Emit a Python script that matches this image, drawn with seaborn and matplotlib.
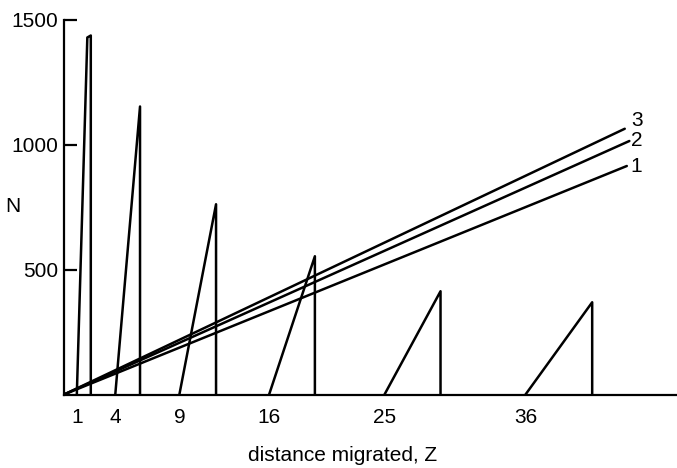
import matplotlib
matplotlib.use("Agg")
import matplotlib.pyplot as plt
import seaborn as sns
import pandas as pd

# ---- data ----
# sawtooth peaks: foot position, apex (end of rising edge), vertical drop
tri_foot_z = [1, 4, 9, 16, 25, 36]
tri_apex_z = [1.82, 5.93, 11.86, 19.57, 29.37, 41.2]
tri_apex_n = [1428, 1152, 761, 553, 413, 369]
tri_drop_z = [2.09, 5.93, 11.86, 19.57, 29.37, 41.2]
tri_drop_n = [1436, 1152, 761, 553, 413, 369]

# straight lines from the origin, labelled 1, 2, 3
line_names = ["1", "2", "3"]
line_end_z = [43.9, 44.1, 43.74]
line_end_n = [914, 1014, 1063]
line_label_n = [914, 1018, 1094]
line_label_z = 44.67

x_ticks = [1, 4, 9, 16, 25, 36]
x_tick_labels = ["1", "4", "9", "16", "25", "36"]
y_ticks = [500, 1000, 1500]
y_tick_labels = ["500", "1000", "1500"]
x_label = "distance migrated, Z"
y_label = "N"

# ---- build tables ----
rows = []
for i in range(len(tri_foot_z)):
    pts = [(tri_foot_z[i], 0), (tri_apex_z[i], tri_apex_n[i]),
           (tri_drop_z[i], tri_drop_n[i]), (tri_drop_z[i], 0)]
    for k, (z, n) in enumerate(pts):
        rows.append({"tri": i, "order": k, "z": z, "n": n})
tri_df = pd.DataFrame(rows)

lrows = []
for name, ez, en in zip(line_names, line_end_z, line_end_n):
    lrows.append({"line": name, "z": 0.0, "n": 0.0})
    lrows.append({"line": name, "z": ez, "n": en})
line_df = pd.DataFrame(lrows)

# ---- plot ----
sns.set_theme(style="white")
plt.rcParams["font.family"] = ["Liberation Sans", "DejaVu Sans"]

W, H = 677, 468
fig = plt.figure(figsize=(W / 100, H / 100), dpi=100)
left, right = 64 / W, 1.0
bottom = (H - 394.5) / H
top = (H - 19.5) / H
ax = fig.add_axes([left, bottom, right - left, top - bottom])

lw = 1.8
sns.lineplot(data=tri_df, x="z", y="n", units="tri", estimator=None,
             sort=False, color="black", linewidth=lw, ax=ax, legend=False)
sns.lineplot(data=line_df, x="z", y="n", units="line", estimator=None,
             sort=False, color="black", linewidth=lw, ax=ax, legend=False)

fs = 15
for name, ln in zip(line_names, line_label_n):
    ax.text(line_label_z, ln, name, fontsize=fs, color="black",
            ha="center", va="center")

ax.set_xlim(0, (W - 64) / 12.82)
ax.set_ylim(0, 1500)

for s in ["top", "right"]:
    ax.spines[s].set_visible(False)
for s in ["left", "bottom"]:
    ax.spines[s].set_color("black")
    ax.spines[s].set_linewidth(1.6)

ax.set_xticks(x_ticks)
ax.set_xticklabels(x_tick_labels)
ax.set_yticks(y_ticks)
ax.set_yticklabels(y_tick_labels)
ax.tick_params(axis="x", bottom=False, length=0, pad=9.5, labelsize=fs,
               colors="black")
ax.tick_params(axis="y", left=True, direction="in", length=9, width=1.6,
               pad=4, labelsize=fs, colors="black")

ax.set_xlabel(x_label, fontsize=15, color="black", va="baseline")
ax.xaxis.set_label_coords((343 - 64) / 613, (394.5 - 461) / 375)
ax.set_ylabel(y_label, fontsize=fs, color="black", rotation=0,
              ha="center", va="center")
ax.yaxis.set_label_coords((12.5 - 64) / 613, 0.5)

fig.savefig("out.png", dpi=100, facecolor="white")
